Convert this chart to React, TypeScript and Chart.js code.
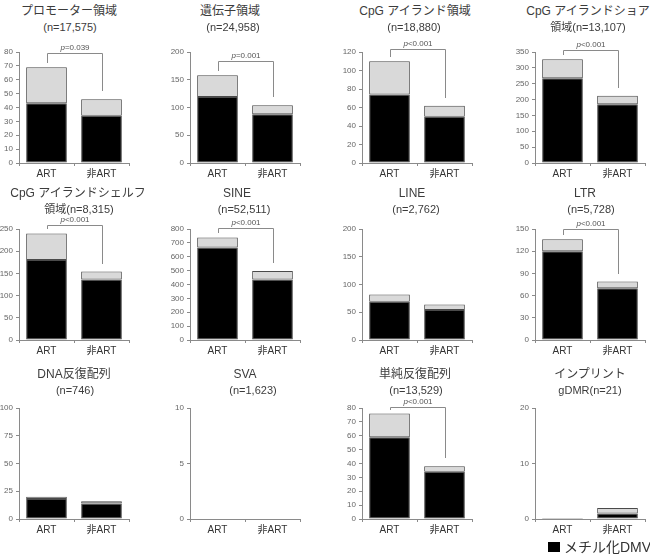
import React, { useEffect, useRef } from "react";
import { Chart, registerables } from "chart.js";

Chart.register(...registerables);

const FONT = "'Liberation Sans', 'Noto Sans CJK JP', sans-serif";

// 比較する2群
const groups = ["ART", "非ART"];

// 各パネルの見出し（1行目・2行目）
const titleTop = [
  "プロモーター領域", "遺伝子領域", "CpG アイランド領域", "CpG アイランドショア",
  "CpG アイランドシェルフ", "SINE", "LINE", "LTR",
  "DNA反復配列", "SVA", "単純反復配列", "インプリント",
];
const titleBottom = [
  "(n=17,575)", "(n=24,958)", "(n=18,880)", "領域(n=13,107)",
  "領域(n=8,315)", "(n=52,511)", "(n=2,762)", "(n=5,728)",
  "(n=746)", "(n=1,623)", "(n=13,529)", "gDMR(n=21)",
];

// メチル化DMV（黒）: [ART, 非ART]
const methylated = [
  [43, 34], [119, 88], [74, 50], [267, 185],
  [180, 136], [667, 436], [69, 54], [120, 70],
  [18, 14], [0, 0], [59, 34], [0, 1],
];
// その他のDMV（灰）: [ART, 非ART]
const other = [
  [26, 12], [39, 16], [36, 12], [60, 27],
  [60, 18], [72, 61], [13, 10], [16, 9],
  [2, 2], [0, 0], [17, 4], [0, 1],
];

// 縦軸の最大値と目盛り間隔
const yMax = [80, 200, 120, 350, 250, 800, 200, 150, 100, 10, 80, 20];
const yStep = [10, 50, 20, 50, 50, 100, 50, 30, 25, 5, 10, 10];

// 群間比較の p 値（空欄は表示なし）と括弧の高さ（縦軸の値）
const pText = [
  "p=0.039", "p=0.001", "p<0.001", "p<0.001",
  "p<0.001", "p<0.001", "", "p<0.001",
  "", "", "p<0.001", "",
];
const bracketAt = [79, 184, 123, 356, 259, 807, 0, 150, 0, 0, 81, 0];

// 配置
const colX = [19, 190, 362, 535];
const rowTop = [52, 229, 408];
const PLOT_W = 110;
const PLOT_H = 111;
const Y_AXIS_W = 32;
const PAD_TOP = 16;
const PAD_RIGHT = 8;
const X_AXIS_H = 24;
const titleX1 = [69, 230, 415, 588, 78, 237, 412, 585, 74, 245, 415, 590];
const titleX2 = [70, 233, 414, 588, 79, 244, 416, 591, 75, 253, 416, 590];
const titleY1 = [11, 193, 374];
const titleY2 = [27, 209, 390];

const AXIS_COLOR = "#8a8a8a";
const BAR_EDGE = "#4a4a4a";

function makeBracketPlugin(i: number) {
  return {
    id: "pBracket",
    afterDatasetsDraw(chart: any) {
      const label = pText[i];
      if (!label) return;
      const xs = chart.scales.x;
      const ys = chart.scales.y;
      const ctx = chart.ctx as CanvasRenderingContext2D;
      const totalArt = methylated[i][0] + other[i][0];
      const totalNon = methylated[i][1] + other[i][1];
      const x0 = Math.round(xs.getPixelForValue(0)) + 0.5;
      const x1 = Math.round(xs.getPixelForValue(1)) + 0.5;
      const yTop = Math.round(ys.getPixelForValue(bracketAt[i])) + 0.5;
      const yArt = Math.round(ys.getPixelForValue(totalArt)) - 4;
      const yNon = Math.round(ys.getPixelForValue(totalNon)) - 8;
      ctx.save();
      ctx.strokeStyle = AXIS_COLOR;
      ctx.lineWidth = 1;
      ctx.beginPath();
      ctx.moveTo(x0, yArt);
      ctx.lineTo(x0, yTop);
      ctx.lineTo(x1, yTop);
      ctx.lineTo(x1, yNon);
      ctx.stroke();

      const head = label.slice(0, 1);
      const rest = label.slice(1);
      const italic = `italic 8px ${FONT}`;
      const normal = `8px ${FONT}`;
      ctx.font = italic;
      const wHead = ctx.measureText(head).width;
      ctx.font = normal;
      const wRest = ctx.measureText(rest).width;
      let x = (x0 + x1) / 2 - (wHead + wRest) / 2;
      const y = yTop - 2;
      ctx.fillStyle = "#555";
      ctx.textBaseline = "bottom";
      ctx.textAlign = "left";
      ctx.font = italic;
      ctx.fillText(head, x, y);
      x += wHead;
      ctx.font = normal;
      ctx.fillText(rest, x, y);
      ctx.restore();
    },
  };
}

function Panel({ i }: { i: number }) {
  const ref = useRef<HTMLCanvasElement>(null);
  const col = i % 4;
  const row = Math.floor(i / 4);
  const width = Y_AXIS_W + PLOT_W + PAD_RIGHT;
  const height = PAD_TOP + PLOT_H + X_AXIS_H;

  useEffect(() => {
    const chart = new Chart(ref.current as HTMLCanvasElement, {
      type: "bar",
      data: {
        labels: groups,
        datasets: [
          {
            label: "メチル化DMV",
            data: methylated[i],
            backgroundColor: "#000000",
            borderColor: BAR_EDGE,
            borderWidth: 1,
            borderSkipped: false,
            minBarLength: i === 11 ? 1 : 0,
          },
          {
            label: "その他",
            data: other[i],
            backgroundColor: "#d9d9d9",
            borderColor: BAR_EDGE,
            borderWidth: 1,
            borderSkipped: false,
          },
        ],
      },
      options: {
        responsive: false,
        animation: false,
        layout: { padding: { top: PAD_TOP, right: PAD_RIGHT, left: 0, bottom: 0 } },
        datasets: { bar: { barPercentage: 0.74, categoryPercentage: 1 } },
        plugins: {
          legend: { display: false },
          title: { display: false },
          tooltip: { enabled: false },
        },
        scales: {
          x: {
            stacked: true,
            afterFit: (s: any) => { s.height = X_AXIS_H; },
            border: { display: true, color: AXIS_COLOR, width: 1 },
            grid: { display: true, drawOnChartArea: false, drawTicks: true, tickLength: 3, color: AXIS_COLOR, offset: true },
            ticks: { color: "#333", font: { family: FONT, size: 10 }, padding: 2, maxRotation: 0 },
          },
          y: {
            stacked: true,
            min: 0,
            max: yMax[i],
            afterFit: (s: any) => { s.width = Y_AXIS_W; },
            border: { display: true, color: AXIS_COLOR, width: 1 },
            grid: { display: true, drawOnChartArea: false, drawTicks: true, tickLength: 3, color: AXIS_COLOR },
            ticks: { stepSize: yStep[i], color: "#666", font: { family: FONT, size: 8 }, padding: 3 },
          },
        },
      },
      plugins: [makeBracketPlugin(i)],
    });
    return () => chart.destroy();
  }, [i]);

  return (
    <>
      <div
        style={{
          position: "absolute",
          left: titleX1[i] - 100,
          top: titleY1[row] - 8,
          width: 200,
          textAlign: "center",
          fontSize: 12,
          lineHeight: "16px",
          color: "#3c3c3c",
          whiteSpace: "nowrap",
        }}
      >
        {titleTop[i]}
      </div>
      <div
        style={{
          position: "absolute",
          left: titleX2[i] - 100,
          top: titleY2[row] - 8,
          width: 200,
          textAlign: "center",
          fontSize: 11,
          lineHeight: "16px",
          color: "#3c3c3c",
          whiteSpace: "nowrap",
        }}
      >
        {titleBottom[i]}
      </div>
      <canvas
        ref={ref}
        width={width}
        height={height}
        style={{
          position: "absolute",
          left: colX[col] - Y_AXIS_W,
          top: rowTop[row] - PAD_TOP,
          width,
          height,
          display: "block",
        }}
      />
    </>
  );
}

export default function App() {
  Chart.defaults.font.family = FONT;
  return (
    <div
      style={{
        position: "fixed",
        left: 0,
        top: 0,
        width: 650,
        height: 558,
        overflow: "hidden",
        background: "#ffffff",
        fontFamily: FONT,
      }}
    >
      {titleTop.map((_, i) => (
        <Panel key={i} i={i} />
      ))}
      <div style={{ position: "absolute", left: 548, top: 542, width: 12, height: 10, background: "#000" }} />
      <div
        style={{
          position: "absolute",
          left: 564,
          top: 538,
          fontSize: 14,
          lineHeight: "18px",
          color: "#333",
          whiteSpace: "nowrap",
        }}
      >
        メチル化DMV
      </div>
    </div>
  );
}
